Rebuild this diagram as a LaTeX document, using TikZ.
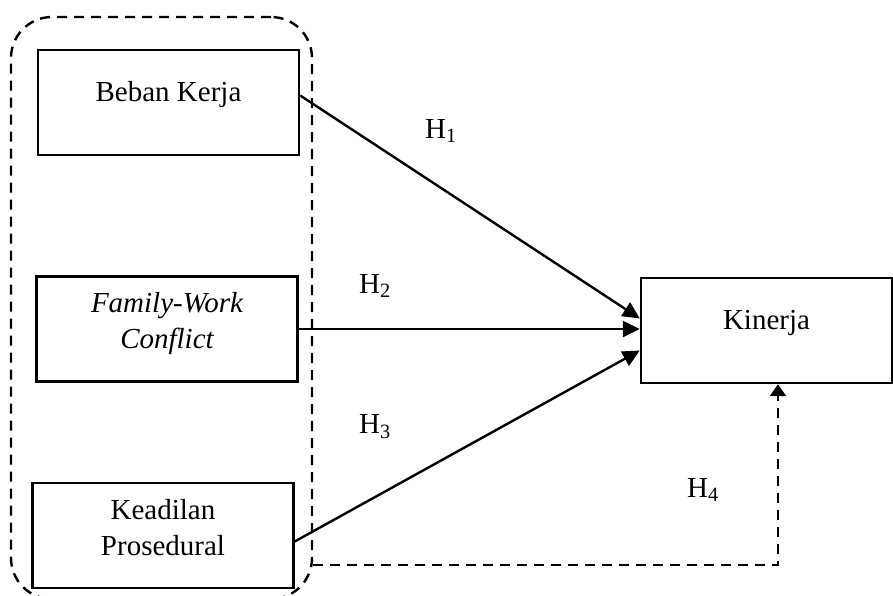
\documentclass[tikz,border=0pt]{standalone}
\usepackage{fontspec}
\setmainfont{Liberation Serif}
\usetikzlibrary{arrows.meta}

\newcommand{\naik}[2]{\raisebox{#1}[\height][\depth]{\begin{tabular}{@{}c@{}}#2\end{tabular}}}

\begin{document}
\begin{tikzpicture}[x=1pt, y=-1pt,
	every node/.style={font=\fontsize{29}{36}\selectfont},
	var/.style={draw, line width=2.4pt, minimum width=261pt, minimum height=105pt, inner sep=0pt},
	panah/.style={line width=2.4pt, -{Triangle[length=17pt, width=16pt]}},
	putus/.style={line width=2.4pt, dash pattern=on 10pt off 7pt}]
		\clip (0,0) rectangle (893,595);
		
		% kotak kelompok variabel bebas
		\node[draw, putus, rounded corners=41pt, minimum width=301pt, minimum height=582pt] (grup) at (161.5, 308) {};
		
		\node[var] (beban) at (168.5, 102.5) {\naik{8pt}{Beban Kerja}};
		\node[var] (family) at (167, 329) {\naik{6pt}{\itshape Family-Work\\\itshape Conflict}};
		\node[var] (keadilan) at (163, 535.5) {\naik{5pt}{Keadilan\\Prosedural}};
		\node[var, minimum width=251pt] (kinerja) at (766.5, 330.5) {\naik{8pt}{Kinerja}};
		
		\draw[panah] ([yshift=7pt]beban.east) -- ([yshift=12pt]kinerja.west);
		\draw[panah] (family.east) -- (family.east -| kinerja.west);
		\draw[panah] ([yshift=-6pt]keadilan.east) -- ([yshift=-20pt]kinerja.west);
		
		\coordinate (sudut) at (778, 565);
		\draw[putus, -{Triangle[length=12pt, width=16pt]}] (grup.east |- sudut) -- (sudut) -- (sudut |- kinerja.south);
		
		\foreach \n/\x/\y in {1/441/131, 2/375/286, 3/375/427, 4/703/490}
		{
			\node (h\n) at (\x, \y) {H\textsubscript{\n}};
		}
\end{tikzpicture}
\end{document}
